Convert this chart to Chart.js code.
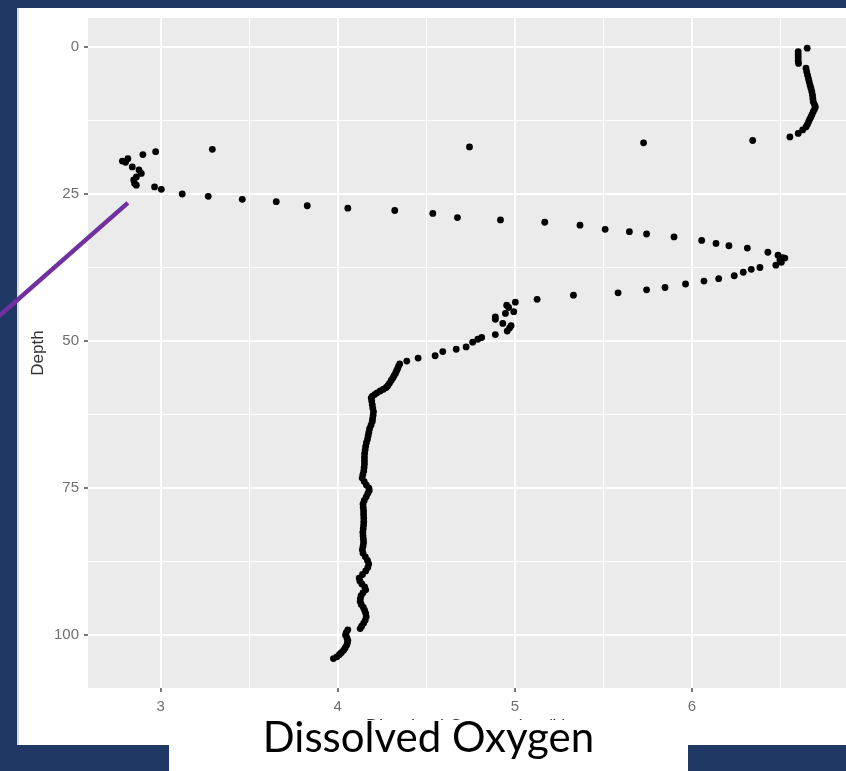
<!DOCTYPE html>
<html>
<head>
<meta charset="utf-8">
<script src="https://cdn.jsdelivr.net/npm/chart.js@4/dist/chart.umd.min.js"></script>
<style>
  html, body { margin: 0; padding: 0; }
  body { width: 846px; height: 771px; background: #1f3864; position: relative; overflow: hidden; }
  #panel { position: absolute; left: 17px; top: 8px; width: 829px; height: 737px; background: #ffffff; border-left: 2px solid #dcdcdc; box-sizing: border-box; }
  #chart { position: absolute; left: 0; top: 0; }
  #caption { position: absolute; left: 169px; top: 720px; width: 519px; height: 51px; background: #ffffff; }
  #caption span { position: absolute; left: 0; right: 0; top: -5px; text-align: center; font-family: Lato, "Noto Sans", sans-serif; font-size: 42px; line-height: 42px; color: #000; white-space: nowrap; }
</style>
</head>
<body>
<div id="panel"></div>
<canvas id="chart" width="846" height="771"></canvas>
<div id="caption"><span>Dissolved Oxygen</span></div>
<script>
// CTD cast: dissolved oxygen (mg/L) against depth (m)
const dissolvedOxygen = [
  6.651, 6.600, 6.600, 6.600, 6.600, 6.602, 6.644, 6.648, 6.653, 6.658,
  6.662, 6.667, 6.672, 6.677, 6.681, 6.683, 6.685, 6.692, 6.697, 6.692,
  6.685, 6.678, 6.672, 6.665, 6.659, 6.652, 6.644, 6.625, 6.600, 6.553,
  6.343, 5.727, 4.744, 3.292, 2.972, 2.900, 2.815, 2.784, 2.802, 2.840,
  2.878, 2.891, 2.863, 2.848, 2.853, 2.863, 2.966, 3.004, 3.122, 3.269,
  3.461, 3.653, 3.828, 4.057, 4.322, 4.537, 4.676, 4.919, 5.169, 5.368,
  5.510, 5.647, 5.744, 5.899, 6.055, 6.136, 6.209, 6.313, 6.429, 6.486,
  6.512, 6.525, 6.497, 6.505, 6.474, 6.384, 6.335, 6.290, 6.239, 6.151,
  6.068, 5.964, 5.848, 5.744, 5.583, 5.331, 5.126, 5.003, 4.954, 4.965,
  4.994, 4.947, 4.890, 4.890, 4.932, 4.979, 4.970, 4.957, 4.890, 4.813,
  4.791, 4.762, 4.725, 4.669, 4.593, 4.550, 4.454, 4.390, 4.350, 4.343,
  4.338, 4.332, 4.326, 4.318, 4.311, 4.302, 4.292, 4.283, 4.274, 4.258,
  4.240, 4.222, 4.208, 4.195, 4.189, 4.192, 4.195, 4.198, 4.202, 4.200,
  4.197, 4.195, 4.188, 4.180, 4.176, 4.172, 4.168, 4.162, 4.158, 4.155,
  4.152, 4.151, 4.151, 4.151, 4.149, 4.147, 4.142, 4.138, 4.150, 4.162,
  4.176, 4.178, 4.170, 4.161, 4.150, 4.143, 4.144, 4.146, 4.146, 4.147,
  4.147, 4.146, 4.144, 4.142, 4.143, 4.145, 4.146, 4.143, 4.139, 4.143,
  4.156, 4.168, 4.175, 4.170, 4.158, 4.140, 4.121, 4.125, 4.136, 4.152,
  4.158, 4.143, 4.132, 4.128, 4.127, 4.133, 4.145, 4.152, 4.158, 4.161,
  4.155, 4.146, 4.135, 4.127, 4.057, 4.048, 4.044, 4.052, 4.057, 4.055,
  4.051, 4.042, 4.033, 4.020, 4.010, 3.995, 3.976
];
const depth = [
   0.2,  0.8,  1.3,  1.8,  2.3,  2.8,  3.6,  4.2,  4.8,  5.4,
   5.9,  6.5,  7.0,  7.6,  8.2,  8.8,  9.3,  9.8, 10.2, 10.6,
  11.0, 11.5, 11.9, 12.3, 12.7, 13.2, 13.6, 14.1, 14.7, 15.3,
  15.9, 16.3, 17.0, 17.4, 17.8, 18.3, 19.0, 19.4, 19.6, 20.4,
  20.9, 21.5, 22.1, 22.6, 23.2, 23.5, 23.8, 24.2, 25.0, 25.4,
  25.9, 26.3, 27.0, 27.4, 27.8, 28.3, 29.0, 29.4, 29.8, 30.3,
  31.0, 31.4, 31.8, 32.3, 32.9, 33.4, 33.8, 34.2, 34.9, 35.4,
  35.8, 35.9, 36.2, 36.6, 37.1, 37.5, 37.8, 38.3, 38.9, 39.4,
  39.8, 40.3, 40.9, 41.3, 41.8, 42.2, 42.9, 43.4, 43.9, 44.3,
  45.0, 45.3, 45.9, 46.3, 47.0, 47.4, 47.8, 48.3, 48.9, 49.4,
  49.7, 50.2, 51.0, 51.4, 51.8, 52.5, 52.9, 53.4, 53.9, 54.3,
  54.7, 55.1, 55.5, 55.9, 56.3, 56.7, 57.2, 57.6, 57.9, 58.2,
  58.5, 58.8, 59.1, 59.4, 59.7, 60.2, 60.8, 61.4, 62.0, 62.6,
  63.2, 63.7, 64.3, 64.9, 65.5, 66.1, 66.7, 67.3, 67.9, 68.5,
  69.1, 69.7, 70.3, 70.9, 71.5, 72.1, 72.7, 73.3, 73.9, 74.5,
  75.0, 75.4, 75.9, 76.5, 77.1, 77.7, 78.3, 78.9, 79.5, 80.1,
  80.7, 81.3, 81.9, 82.5, 83.1, 83.7, 84.3, 84.9, 85.5, 86.1,
  86.7, 87.3, 87.9, 88.5, 89.1, 89.7, 90.3, 90.8, 91.3, 91.8,
  92.3, 92.8, 93.3, 93.8, 94.3, 94.8, 95.3, 95.8, 96.3, 96.9,
  97.5, 98.0, 98.5, 98.9, 99.1, 99.6, 100.0, 100.5, 100.9, 101.3,
  101.7, 102.2, 102.6, 103.0, 103.3, 103.7, 104.0
];

// axis ticks: labelled majors with unlabelled minor grid lines between them
const xTickValues = [3, 3.5, 4, 4.5, 5, 5.5, 6, 6.5];
const xTickLabels = ['3', '', '4', '', '5', '', '6', ''];
const yTickValues = [0, 12.5, 25, 37.5, 50, 62.5, 75, 87.5, 100];
const yTickLabels = ['0', '', '25', '', '50', '', '75', '', '100'];
const xRange = [2.59, 6.87];
const yRange = [-4.93, 109];

// where the callout line ends, in data units
const pointerTip = [2.815, 26.5];

const points = dissolvedOxygen.map((v, i) => ({ x: v, y: depth[i] }));

const panelFill = {
  id: 'panelFill',
  beforeDraw(chart) {
    const { ctx, chartArea: a } = chart;
    ctx.save();
    ctx.fillStyle = '#ebebeb';
    ctx.fillRect(a.left, a.top, a.right - a.left, a.bottom - a.top);
    ctx.restore();
  }
};

const calloutLine = {
  id: 'calloutLine',
  afterDraw(chart) {
    const { ctx, scales } = chart;
    const ex = scales.x.getPixelForValue(pointerTip[0]);
    const ey = scales.y.getPixelForValue(pointerTip[1]);
    ctx.save();
    ctx.strokeStyle = '#7030a0';
    ctx.lineWidth = 4.5;
    ctx.beginPath();
    ctx.moveTo(ex - 150, ey + 132);
    ctx.lineTo(ex, ey);
    ctx.stroke();
    ctx.restore();
  }
};

const isMajor = (labels) => (c) => c.tick && labels[c.index] !== '';

new Chart(document.getElementById('chart'), {
  type: 'scatter',
  data: {
    datasets: [{
      data: points,
      backgroundColor: '#000000',
      borderWidth: 0,
      pointRadius: 3.4,
      pointHoverRadius: 3.4
    }]
  },
  options: {
    responsive: false,
    animation: false,
    events: [],
    devicePixelRatio: 1,
    layout: { autoPadding: false, padding: { top: 18, left: 0, right: 0, bottom: 0 } },
    plugins: { legend: { display: false }, tooltip: { enabled: false } },
    scales: {
      x: {
        type: 'linear',
        min: xRange[0],
        max: xRange[1],
        afterBuildTicks: (s) => { s.ticks = xTickValues.map((v) => ({ value: v })); },
        afterFit: (s) => { s.height = 83; },
        border: { display: false },
        grid: {
          color: '#ffffff',
          lineWidth: (c) => (isMajor(xTickLabels)(c) ? 2 : 1),
          tickLength: 4,
          tickWidth: 1.5,
          tickColor: (c) => (isMajor(xTickLabels)(c) ? '#4d4d4d' : 'rgba(0,0,0,0)')
        },
        ticks: {
          autoSkip: false,
          maxRotation: 0,
          padding: 6,
          color: '#6f6f6f',
          font: { family: '"Liberation Sans", Arial, sans-serif', size: 15 },
          callback: (v, i) => xTickLabels[i]
        },
        title: {
          display: true,
          text: 'Dissolved Oxygen (mg/L)',
          color: '#333333',
          font: { family: '"Liberation Sans", Arial, sans-serif', size: 18 },
          padding: { top: 0, bottom: 33 }
        }
      },
      y: {
        type: 'linear',
        reverse: true,
        min: yRange[0],
        max: yRange[1],
        afterBuildTicks: (s) => { s.ticks = yTickValues.map((v) => ({ value: v })); },
        afterFit: (s) => { s.width = 88; },
        border: { display: false },
        grid: {
          color: '#ffffff',
          lineWidth: (c) => (isMajor(yTickLabels)(c) ? 2 : 1),
          tickLength: 4,
          tickWidth: 1.5,
          tickColor: (c) => (isMajor(yTickLabels)(c) ? '#4d4d4d' : 'rgba(0,0,0,0)')
        },
        ticks: {
          autoSkip: false,
          padding: 5,
          color: '#6f6f6f',
          font: { family: '"Liberation Sans", Arial, sans-serif', size: 15 },
          callback: (v, i) => yTickLabels[i]
        },
        title: {
          display: true,
          text: 'Depth',
          color: '#333333',
          font: { family: '"Liberation Sans", Arial, sans-serif', size: 17 },
          padding: { top: 28, bottom: 0 }
        }
      }
    }
  },
  plugins: [panelFill, calloutLine]
});
</script>
</body>
</html>
